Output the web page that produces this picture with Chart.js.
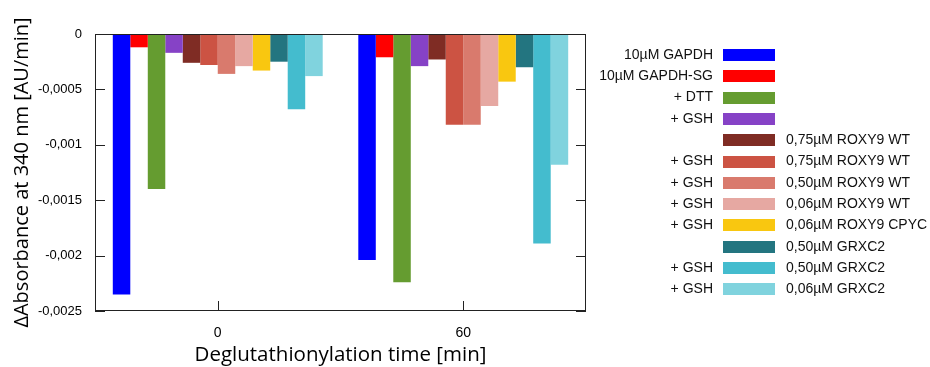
<!DOCTYPE html>
<html>
<head>
<meta charset="utf-8">
<script src="https://cdn.jsdelivr.net/npm/chart.js@4.4.0/dist/chart.umd.min.js"></script>
<style>
html, body { margin: 0; padding: 0; background: #fff; }
</style>
</head>
<body>
<canvas id="Score" width="930" height="367"></canvas>
<script>
// time points (min)
var categories = ['0', '60'];

// one small array per series: [t=0, t=60]
var gapdh        = [-0.00235, -0.00204];
var gapdhSG      = [-0.00012, -0.00021];
var dtt          = [-0.00140, -0.00224];
var gsh          = [-0.00017, -0.00029];
var roxy075      = [-0.00026, -0.00023];
var roxy075Gsh   = [-0.00028, -0.00082];
var roxy050Gsh   = [-0.00036, -0.00082];
var roxy006Gsh   = [-0.00029, -0.00065];
var cpyc006Gsh   = [-0.00033, -0.00043];
var grx050       = [-0.00025, -0.00030];
var grx050Gsh    = [-0.00068, -0.00189];
var grx006Gsh    = [-0.00038, -0.00118];

var yTicks = [0, -0.0005, -0.001, -0.0015, -0.002, -0.0025];

// legend text, left and right of the colour box
var leftLabels = ['10µM GAPDH', '10µM GAPDH-SG', '+ DTT', '+ GSH', '', '+ GSH',
                  '+ GSH', '+ GSH', '+ GSH', '', '+ GSH', '+ GSH'];
var rightLabels = ['', '', '', '', '0,75µM ROXY9 WT', '0,75µM ROXY9 WT',
                   '0,50µM ROXY9 WT', '0,06µM ROXY9 WT', '0,06µM ROXY9 CPYC',
                   '0,50µM GRXC2', '0,50µM GRXC2', '0,06µM GRXC2'];

var colors = ['#0000FF', '#FF0000', '#659C30', '#8642C6', '#7F2C24', '#CC5343',
              '#D97A6D', '#E6A8A2', '#F9C710', '#237580', '#44BCCE', '#80D3DE'];

var series = [gapdh, gapdhSG, dtt, gsh, roxy075, roxy075Gsh, roxy050Gsh,
              roxy006Gsh, cpyc006Gsh, grx050, grx050Gsh, grx006Gsh];

var datasets = series.map(function (vals, i) {
    return {
        label: (leftLabels[i] + ' ' + rightLabels[i]).trim(),
        data: vals,
        backgroundColor: colors[i],
        borderWidth: 0,
        categoryPercentage: 0.855,
        barPercentage: 1
    };
});

// box around plot + inward ticks, gnuplot style
var frame = {
    id: 'frame',
    afterDatasetsDraw: function (chart) {
        var c = chart.ctx, a = chart.chartArea;
        var ys = chart.scales.y, xs = chart.scales.x;
        c.save();
        c.strokeStyle = '#222';
        c.lineWidth = 1;
        c.strokeRect(a.left + 0.5, a.top + 0.5, a.right - a.left - 1, a.bottom - a.top - 1);
        c.beginPath();
        yTicks.forEach(function (v) {
            var y = Math.round(ys.getPixelForValue(v)) + 0.5;
            c.moveTo(a.left, y); c.lineTo(a.left + 10, y);
            c.moveTo(a.right, y); c.lineTo(a.right - 10, y);
        });
        categories.forEach(function (cat, i) {
            var x = Math.round(xs.getPixelForTick(i)) + 0.5;
            c.moveTo(x, a.bottom); c.lineTo(x, a.bottom - 10);
        });
        c.stroke();
        c.restore();
    }
};

var keyBox = {
    id: 'keyBox',
    afterDraw: function (chart) {
        var c = chart.ctx;
        c.save();
        c.font = '14px "Liberation Sans", Arial, sans-serif';
        c.textBaseline = 'middle';
        chart.data.datasets.forEach(function (ds, i) {
            var y = 55 + i * 21.3;
            c.fillStyle = ds.backgroundColor;
            c.fillRect(723, Math.round(y - 6), 52, 12);
            c.fillStyle = '#111';
            c.textAlign = 'right';
            if (leftLabels[i]) c.fillText(leftLabels[i], 713, y);
            c.textAlign = 'left';
            if (rightLabels[i]) c.fillText(rightLabels[i], 786, y);
        });
        c.restore();
    }
};

var ctx = document.getElementById('Score').getContext('2d');
var chart = new Chart(ctx, {
    type: 'bar',
    data: {
        labels: categories,
        datasets: datasets
    },
    options: {
        responsive: false,
        animation: false,
        layout: { padding: { top: 34, right: 344, left: 0, bottom: 0 } },
        plugins: { legend: { display: false }, tooltip: { enabled: false } },
        scales: {
            x: {
                offset: true,
                grid: { display: false, drawTicks: false },
                border: { display: false },
                ticks: {
                    color: '#000',
                    padding: 14,
                    font: { family: '"Liberation Sans", Arial, sans-serif', size: 14 }
                },
                title: {
                    display: true,
                    text: 'Deglutathionylation time [min]',
                    color: '#000',
                    font: { family: '"Open Sans", sans-serif', size: 20.5 },
                    padding: { top: 0, bottom: 0 }
                },
                afterFit: function (s) { s.height = 56; }
            },
            y: {
                min: -0.0025,
                max: 0,
                afterBuildTicks: function (s) {
                    s.ticks = yTicks.map(function (v) { return { value: v }; });
                },
                grid: { display: false, drawTicks: false },
                border: { display: false },
                ticks: {
                    color: '#000',
                    padding: 13,
                    font: { family: '"Liberation Sans", Arial, sans-serif', size: 13 },
                    callback: function (v) { return String(v).replace('.', ','); }
                },
                title: {
                    display: true,
                    text: 'ΔAbsorbance at 340 nm [AU/min]',
                    color: '#000',
                    font: { family: '"Open Sans", sans-serif', size: 20 },
                    padding: { top: 10, bottom: 0 }
                },
                afterFit: function (s) { s.width = 95; }
            }
        }
    },
    plugins: [frame, keyBox]
});
</script>
</body>
</html>
